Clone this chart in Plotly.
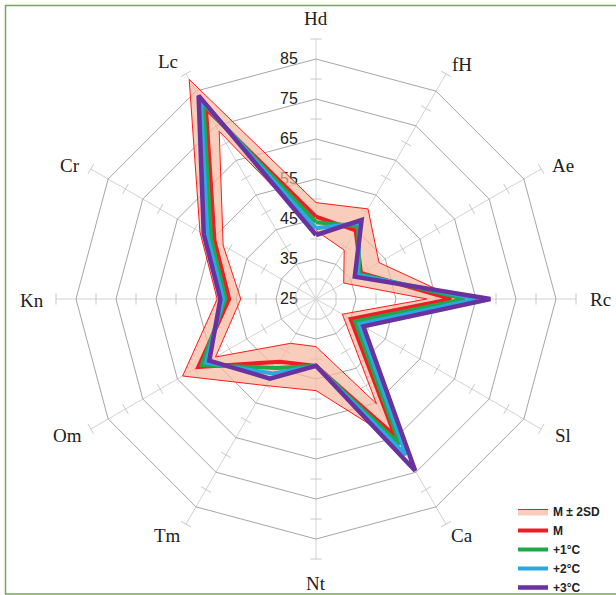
import plotly.graph_objects as go

# Axes, clockwise from the top
categories = ["Hd", "fH", "Ae", "Rc", "Sl", "Ca", "Nt", "Tm", "Om", "Kn", "Cr", "Lc"]

# Mean profile and warming scenarios
m_values = [45.6, 44.8, 38.0, 58.8, 35.0, 64.5, 41.7, 43.1, 59.0, 46.7, 54.3, 80.0]
plus1_values = [44.2, 46.0, 37.5, 62.3, 36.3, 67.0, 41.7, 44.9, 58.0, 47.6, 55.3, 81.3]
plus2_values = [42.7, 47.0, 37.0, 65.3, 37.5, 70.0, 41.7, 46.5, 56.8, 48.2, 56.3, 82.5]
plus3_values = [41.0, 47.8, 36.2, 68.6, 38.7, 74.6, 41.7, 48.0, 55.8, 48.9, 57.4, 83.7]

# M ± 2SD envelope
band_low = [42.1, 39.1, 33.0, 52.7, 32.6, 55.2, 36.9, 37.8, 54.0, 43.8, 51.8, 73.4]
band_high = [49.1, 51.0, 43.2, 60.5, 37.5, 66.5, 47.9, 50.0, 63.5, 49.7, 58.5, 88.4]

# Radial scale
radial_ticks = [25, 35, 45, 55, 65, 75, 85]
spoke_ticks = [30, 40, 50, 60, 70, 80, 90]
radial_range = [25, 90]

W, H = 616, 595
CX, CY, RADIUS = 316, 299, 260      # polar centre and outer radius (px)

# pixel centres of the category names around the web
LABEL_XY = [(316, 18), (462, 64), (563, 165), (600, 299), (563, 435), (462, 535),
            (316, 583), (167, 535), (67, 435), (32, 300), (70, 165), (168, 62)]


def closed(values):
    return list(values) + [values[0]]


theta_closed = closed(categories)

fig = go.Figure()

# small cross ticks on every spoke
tick_theta, tick_r, tick_angle = [], [], []
for i, cat in enumerate(categories):
    for v in spoke_ticks:
        tick_theta.append(cat)
        tick_r.append(v)
        tick_angle.append(i * 360 / len(categories))
fig.add_trace(go.Scatterpolar(
    r=tick_r, theta=tick_theta, mode="markers",
    marker=dict(symbol="line-ew", size=8, angle=tick_angle,
                line=dict(color="#c8c8c8", width=1)),
    hoverinfo="skip", showlegend=False, cliponaxis=False,
))

# envelope: inner ring, then outer ring filled back to it
fig.add_trace(go.Scatterpolar(
    r=closed(band_low), theta=theta_closed, mode="lines",
    line=dict(color="#ff1a1a", width=1), hoverinfo="skip", showlegend=False,
))
fig.add_trace(go.Scatterpolar(
    r=closed(band_high), theta=theta_closed, mode="lines",
    line=dict(color="#ff1a1a", width=1), fill="tonext",
    fillcolor="rgba(246,184,158,0.7)", name="M ± 2SD",
))

series = [
    ("M", m_values, "#ee1c25", 4),
    ("+1°C", plus1_values, "#1ea84a", 4),
    ("+2°C", plus2_values, "#29a9e0", 4),
    ("+3°C", plus3_values, "#6a329f", 4.5),
]
for name, vals, color, width in series:
    fig.add_trace(go.Scatterpolar(
        r=closed(vals), theta=theta_closed, mode="lines",
        line=dict(color=color, width=width), name=name,
    ))

# category names
annotations = [
    dict(text=cat, x=px / W, y=1 - py / H, xref="paper", yref="paper",
         xanchor="center", yanchor="middle", showarrow=False,
         font=dict(family="Liberation Serif, Times New Roman", size=19, color="#222"))
    for cat, (px, py) in zip(categories, LABEL_XY)
]

fig.update_layout(
    width=W, height=H, autosize=False,
    margin=dict(l=0, r=0, t=0, b=0, autoexpand=False),
    paper_bgcolor="white",
    polar=dict(
        domain=dict(x=[(CX - RADIUS) / W, (CX + RADIUS) / W],
                    y=[1 - (CY + RADIUS) / H, 1 - (CY - RADIUS) / H]),
        bgcolor="white",
        gridshape="linear",
        radialaxis=dict(
            range=radial_range, tickvals=radial_ticks, angle=90, tickangle=90,
            side="counterclockwise", showline=False, layer="below traces",
            ticks="outside", ticklen=12, tickcolor="rgba(0,0,0,0)",
            gridcolor="#a6a6a6", gridwidth=1,
            tickfont=dict(family="Liberation Sans, Arial", size=16, color="#222"),
        ),
        angularaxis=dict(
            type="category", categoryarray=categories,
            direction="clockwise", rotation=90,
            showline=False, showticklabels=False, layer="below traces",
            gridcolor="#d2d2d2", gridwidth=1, ticks="",
        ),
    ),
    annotations=annotations,
    legend=dict(
        x=513 / W, y=1 - 497 / H, xanchor="left", yanchor="top",
        bgcolor="rgba(0,0,0,0)", itemwidth=30, tracegroupgap=0,
        font=dict(family="Liberation Sans, Arial", size=12, color="#222", weight="bold"),
    ),
    shapes=[dict(
        type="rect", xref="paper", yref="paper",
        x0=5.5 / W, x1=1.01, y0=1 - 594 / H, y1=1 - 5.5 / H,
        line=dict(color="#78a55a", width=1.5), fillcolor="rgba(0,0,0,0)",
    )],
)

fig.write_html("out.html")
